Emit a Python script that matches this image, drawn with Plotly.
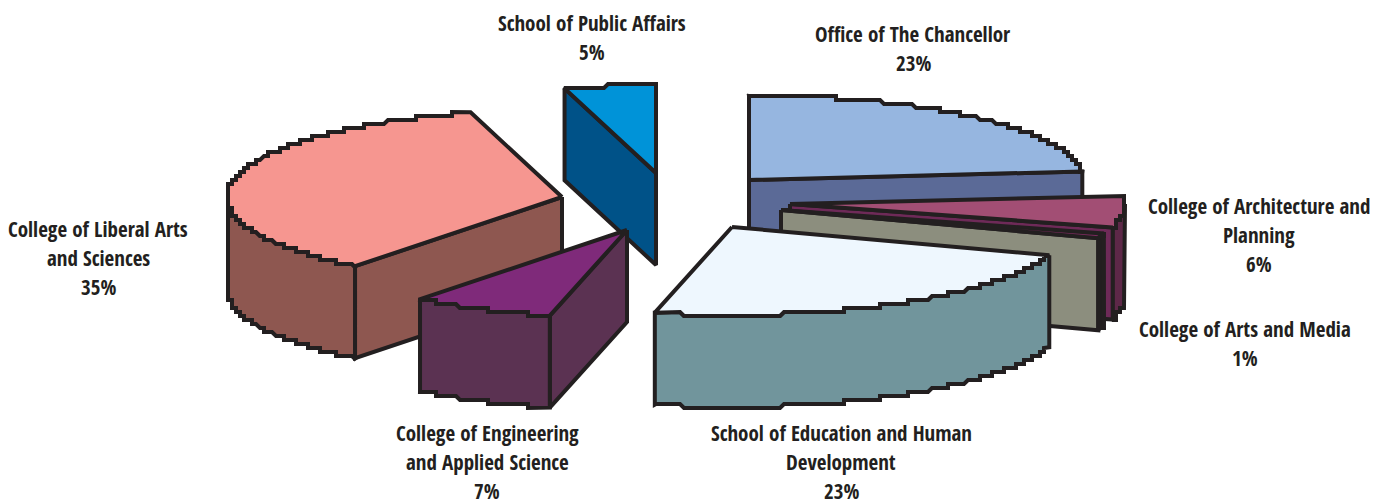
import math
import plotly.graph_objects as go

# Data
units = [["Office of The Chancellor"], ["College of Architecture and", "Planning"], ["College of Arts and Media"],
         ["School of Education and Human", "Development"], ["College of Engineering", "and Applied Science"],
         ["College of Liberal Arts", "and Sciences"], ["School of Public Affairs"]]
shares = [23.4, 5.9, 0.9, 23.5, 6.9, 35.0, 4.4]
share_labels = ["23%", "6%", "1%", "23%", "7%", "35%", "5%"]

# Styles and layout of the exploded pseudo-3D pie
top_colors = ["#96b6e0", "#a24e74", "#7a2a5c", "#eef7fe", "#7f2a7a", "#f69690", "#0093d8"]
side_colors = ["#5b6a97", "#6e2a58", "#8c8e7e", "#71959c", "#5b3252", "#8e5750", "#005288"]
wall_colors = ["#5b6a97", "#5d2848", "#231f20", "#71959c", "#5b3252", "#8e5750", "#005288"]
apex_x = [749, 790, 781, 732, 627, 562, 656]
apex_y = [180, 204, 210, 227, 230, 197, 173]
radius_y = [85, 88, 88, 88, 88, 88, 88]
label_x = [913, 1259, 1245, 841, 487, 98, 592]
label_y = [34, 206, 329, 433, 433, 229, 23]
LINE_PITCH = 29
draw_order = [6, 0, 1, 2, 3, 5, 4]
RX, DEPTH, STEP = 335, 92, 4.0
INK = "#231f20"


def rim(cx, cy, ry, a0, a1, drop=0.0):
    n = max(2, int(abs(a1 - a0) * 6))
    pts = []
    for i in range(n + 1):
        t = math.radians(a0 + (a1 - a0) * i / n)
        x = cx + RX * math.sin(t)
        y = cy - ry * math.cos(t)
        if 0 < i < n:
            x, y = round(x / STEP) * STEP, round(y / STEP) * STEP
        p = (x, y + drop)
        if not pts or pts[-1] != p:
            pts.append(p)
    return pts


def face(pts, color):
    xs = [p[0] for p in pts] + [pts[0][0]]
    ys = [p[1] for p in pts] + [pts[0][1]]
    return go.Scatter(x=xs, y=ys, mode="lines", fill="toself", fillcolor=color,
                      line=dict(color=INK, width=4), hoverinfo="skip", showlegend=False)


total = sum(shares)
starts, acc = [], 0.0
for s in shares:
    starts.append(acc)
    acc += s

fig = go.Figure()
for i in draw_order:
    a0 = starts[i] / total * 360
    a1 = (starts[i] + shares[i]) / total * 360
    cx, cy, ry = apex_x[i], apex_y[i], radius_y[i]
    apex = (cx, cy)
    # radial cut faces that point towards the viewer
    for ang, normal in ((a0, a0 - 90), (a1, a1 + 90)):
        if math.cos(math.radians(normal)) < 0:
            t = math.radians(ang)
            e = (cx + RX * math.sin(t), cy - ry * math.cos(t))
            fig.add_trace(face([apex, e, (e[0], e[1] + DEPTH), (cx, cy + DEPTH)], side_colors[i]))
    # outer wall
    w0, w1 = max(a0, 90), min(a1, 270)
    if w1 > w0:
        up = rim(cx, cy, ry, w0, w1)
        down = rim(cx, cy, ry, w0, w1, DEPTH)
        fig.add_trace(face(up + down[::-1], wall_colors[i]))
    # top face
    fig.add_trace(face([apex] + rim(cx, cy, ry, a0, a1), top_colors[i]))

for lines, pct, x, y in zip(units, share_labels, label_x, label_y):
    for k, line in enumerate(lines + [pct]):
        fig.add_annotation(x=x, y=y + k * LINE_PITCH, xref="x", yref="y", text=line, showarrow=False,
                           xanchor="center", yanchor="middle", align="center",
                           font=dict(family="Open Sans Condensed, Liberation Sans, sans-serif",
                                     size=21, color=INK, weight="bold"))

fig.update_xaxes(range=[0, 1386], visible=False, fixedrange=True)
fig.update_yaxes(range=[504, 0], visible=False, fixedrange=True)
fig.update_layout(width=1386, height=504, margin=dict(l=0, r=0, t=0, b=0),
                  paper_bgcolor="white", plot_bgcolor="white", showlegend=False)
fig.write_html("out.html", post_script="document.body.style.margin='0';document.body.style.overflow='hidden';",
               config={"displayModeBar": False})
